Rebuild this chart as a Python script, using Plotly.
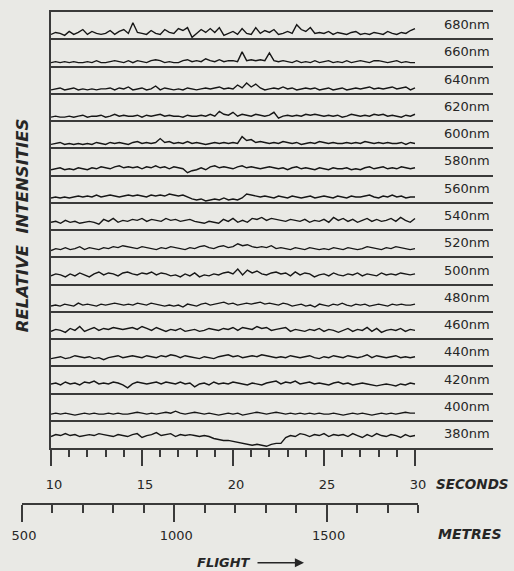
import plotly.graph_objects as go

# Spectral channels, top to bottom
wavelengths = ["680nm", "660nm", "640nm", "620nm", "600nm", "580nm", "560nm", "540nm",
               "520nm", "500nm", "480nm", "460nm", "440nm", "420nm", "400nm", "380nm"]

# Relative intensity records, sampled every 0.25 s from 10 s to 30 s
i680 = [5,7,6,4, 8,5,7,10, 5,8,6,5, 6,9,5,8, 10,6,17,7, 6,5,9,6, 5,10,7,6, 11,9,12,2, 6,10,7,11,
        7,12,4,6, 8,5,11,6, 5,12,6,9, 7,10,5,6, 8,6,15,10, 8,12,6,7, 6,8,5,7, 6,5,7,8, 5,6,5,7,
        6,5,8,6, 5,7,6,9, 11]
i660 = [4,5,4,5, 4,5,4,4, 5,4,6,4, 4,5,6,5, 4,6,4,6, 5,4,6,7, 6,4,5,4, 4,6,7,5, 6,5,8,6, 5,7,5,6,
        6,5,15,6, 7,6,7,6, 14,6,5,6, 5,4,6,4, 5,4,6,4, 5,6,4,5, 4,6,4,5, 6,5,4,6, 6,5,4,5,
        6,4,5,4, 4]
i640 = [4,5,6,4, 5,6,4,5, 4,5,4,5, 5,6,4,6, 5,7,4,5, 6,4,5,8, 4,6,5,4, 5,4,6,5, 4,5,6,5, 6,7,5,6,
        5,9,6,11, 7,10,6,4, 5,6,5,7, 5,6,4,5, 6,5,6,4, 5,6,4,5, 6,4,5,6, 5,6,7,5, 6,5,6,7,
        5,6,7,4, 6]
i620 = [4,5,4,4, 5,4,5,6, 4,5,5,6, 4,5,7,5, 6,5,5,6, 4,6,5,6, 7,5,6,5, 5,4,6,5, 5,6,5,7, 5,10,7,6,
        9,5,7,6, 5,7,6,5, 6,9,3,5, 6,5,6,5, 7,6,7,6, 5,6,5,6, 4,5,7,6, 5,6,5,7, 6,7,5,6,
        5,4,6,5, 7]
i600 = [4,5,6,4, 5,4,5,4, 5,4,6,5, 4,6,5,6, 5,4,6,7, 5,6,5,6, 10,6,7,5, 6,5,7,5, 6,5,4,5, 6,5,6,5,
        6,5,12,8, 9,6,7,6, 5,6,5,7, 6,5,6,4, 5,6,5,7, 6,5,6,5, 5,6,5,6, 5,7,6,5, 6,5,6,5,
        5,6,4,6, 5]
i580 = [6,7,8,6, 7,6,8,7, 6,8,7,9, 8,7,9,10, 8,9,8,9, 7,9,8,10, 8,9,7,9, 8,7,3,5, 6,8,6,9, 10,8,9,8,
        7,9,10,8, 9,8,7,8, 9,8,7,8, 6,8,9,7, 8,7,6,8, 7,6,8,7, 7,8,6,7, 6,8,9,7, 8,9,7,8,
        7,9,8,7, 8]
i560 = [5,6,5,6, 5,6,7,6, 7,6,8,6, 7,8,7,6, 7,8,7,8, 7,6,8,7, 8,7,9,8, 7,8,6,4, 3,4,2,3, 4,3,5,3,
        4,3,5,9, 8,7,6,7, 6,5,7,6, 5,7,6,5, 6,7,5,6, 7,6,5,7, 6,5,7,6, 6,7,8,6, 5,7,6,8,
        6,7,5,6, 6]
i540 = [8,9,7,10, 8,9,7,8, 9,8,6,11, 9,12,8,10, 9,11,10,12, 9,11,10,9, 12,10,11,9, 10,11,9,8,
        7,9,8,7, 11,9,12,8, 10,8,12,11, 13,10,12,11, 10,9,11,10, 9,11,8,10, 9,11,8,13, 10,12,9,11,
        8,10,12,9, 11,9,10,12, 9,13,10,8, 12]
i520 = [7,9,8,10, 8,9,11,8, 10,9,8,10, 9,11,10,12, 11,10,9,11, 10,9,8,10, 9,11,10,9, 8,10,9,11,
        12,10,9,11, 12,10,11,14, 12,13,11,10, 11,10,12,9, 10,9,8,10, 9,8,10,9, 8,9,8,10, 9,8,10,9,
        8,9,11,10, 9,8,10,9, 11,10,9,8, 9]
i500 = [9,11,10,8, 11,9,12,10, 8,11,13,10, 12,11,9,12, 13,11,10,12, 11,13,10,12, 11,9,10,8,
        11,9,12,8, 10,9,11,10, 12,13,11,16, 10,15,12,14, 11,10,12,13, 11,12,9,13, 10,12,11,8,
        10,11,9,12, 10,9,11,10, 12,9,11,10, 9,12,10,11, 10,12,11,10, 11]
i480 = [6,7,6,8, 7,6,9,7, 8,7,6,8, 7,8,9,8, 7,8,7,9, 8,7,9,8, 7,6,7,6, 7,5,8,7, 6,8,9,7, 8,9,10,8,
        9,7,8,9, 8,9,10,8, 9,8,7,9, 8,6,7,8, 6,7,5,8, 7,6,8,7, 9,7,6,8, 7,8,6,7, 8,7,6,8,
        7,8,7,7, 8]
i460 = [8,10,9,7, 11,9,13,8, 10,12,9,11, 10,12,11,10, 11,12,10,13, 11,9,12,10, 8,10,9,11, 8,9,10,8,
        9,11,10,9, 11,10,12,9, 12,11,10,13, 11,12,9,10, 11,12,8,10, 9,8,10,9, 11,8,10,9, 7,9,11,8,
        10,9,12,8, 11,7,9,10, 9,11,8,10, 9]
i440 = [8,9,10,8, 9,11,10,9, 10,8,9,7, 9,10,11,9, 10,11,10,9, 11,10,9,11, 10,12,11,9, 11,10,9,8,
        10,9,8,10, 11,12,10,11, 9,10,11,10, 12,11,10,9, 10,9,11,10, 9,10,11,9, 8,10,9,11, 10,9,11,10,
        9,10,12,9, 11,10,9,10, 11,9,10,9, 10]
i420 = [10,11,9,12, 10,11,9,12, 11,13,10,11, 10,12,11,9, 6,10,12,11, 10,11,12,10, 12,11,10,12,
        10,11,7,10, 11,9,12,10, 11,10,12,11, 10,9,11,10, 9,11,12,13, 10,12,11,13, 10,11,12,10,
        11,10,9,11, 12,10,11,9, 10,11,10,9, 8,9,10,9, 8,10,9,11, 10]
i400 = [7,8,7,8, 7,6,7,8, 7,8,7,7, 8,7,8,7, 7,8,9,8, 7,8,7,8, 9,8,10,8, 7,8,9,8, 7,8,7,6, 7,8,7,8,
        6,7,8,9, 8,7,8,9, 8,7,8,7, 8,7,8,7, 8,7,7,8, 7,6,7,8, 7,8,7,6, 7,8,7,8, 7,8,9,8, 8]
i380 = [12,14,13,15, 13,14,12,13, 14,13,15,14, 13,12,14,13, 12,14,15,11, 13,14,16,13, 14,15,12,14,
        13,14,13,12, 13,12,10,9, 8,8,7,6, 5,4,3,4, 3,2,4,5, 5,11,13,12, 15,14,12,14, 13,15,12,14,
        13,14,12,15, 13,11,14,12, 15,13,12,14, 13,11,14,12, 13]

records = [i680, i660, i640, i620, i600, i580, i560, i540,
           i520, i500, i480, i460, i440, i420, i400, i380]

# Axis tick values
second_ticks = [10, 15, 20, 25, 30]
second_minor = [11, 12, 13, 14, 16, 17, 18, 19, 21, 22, 23, 24, 26, 27, 28, 29]
metre_ticks = [500, 1000, 1500]
metre_minor = [600, 700, 800, 900, 1100, 1200, 1300, 1400, 1600, 1700, 1800]

T_START, T_END = 10, 30
BAND = 28.0          # intensity units per channel strip
N_BANDS = len(wavelengths)

INK = "#262626"
RULE = "#3a3a3a"
PAPER = "#e9e9e5"
FONT = "DejaVu Sans"

fig = go.Figure()

for row, (label, vals) in enumerate(zip(wavelengths, records)):
    base = N_BANDS - 1 - row
    n = len(vals)
    t = [T_START + (T_END - T_START) * i / (n - 1) for i in range(n)]
    fig.add_trace(go.Scatter(
        x=t, y=[base + v / BAND for v in vals], mode="lines",
        line=dict(color="#161616", width=1.4), showlegend=False, hoverinfo="skip"))
    fig.add_annotation(
        x=1, xref="paper", y=base + 0.5, yref="y", text=label, showarrow=False,
        xanchor="right", yanchor="middle", xshift=-1, yshift=1,
        font=dict(family=FONT, size=13, color=INK))

# placeholder trace so the distance axis is drawn
fig.add_trace(go.Scatter(x=[None], y=[None], xaxis="x2", yaxis="y2",
                         showlegend=False, hoverinfo="skip"))

W, H = 514, 571
ML, MR, MT, MB = 22, 21, 10, 68
pw, ph = W - ML - MR, H - MT - MB

def px_x(p):
    return (p - ML) / pw

def px_y(p):
    return (H - MB - p) / ph

fig.update_layout(
    width=W, height=H,
    margin=dict(l=ML, r=MR, t=MT, b=MB, pad=0),
    paper_bgcolor=PAPER, plot_bgcolor=PAPER,
    hovermode=False,
    xaxis=dict(
        domain=[px_x(51), 1], range=[T_START, T_START + (493 - 51) / 18.2],
        showline=True, linecolor=RULE, linewidth=2, mirror=True,
        showgrid=False, zeroline=False,
        tickmode="array", tickvals=second_ticks,
        ticks="outside", ticklen=16, tickwidth=2, tickcolor=RULE,
        ticklabelstandoff=7, ticklabelshift=3,
        tickfont=dict(family=FONT, size=13, color=INK),
        minor=dict(tickmode="array", tickvals=second_minor, ticks="outside",
                   ticklen=7, tickwidth=2, tickcolor=RULE, showgrid=False),
    ),
    yaxis=dict(
        domain=[px_y(448), 1], range=[0, N_BANDS],
        showline=True, linecolor=RULE, linewidth=2,
        tickmode="array", tickvals=list(range(1, N_BANDS)),
        showgrid=True, gridcolor=RULE, gridwidth=2,
        showticklabels=False, ticks="", zeroline=False,
    ),
    xaxis2=dict(
        domain=[0, px_x(418)], range=[500, 1800], anchor="y2",
        showline=True, linecolor=RULE, linewidth=2,
        showgrid=False, zeroline=False,
        tickmode="array", tickvals=metre_ticks,
        ticks="outside", ticklen=17, tickwidth=2, tickcolor=RULE,
        ticklabelstandoff=2, ticklabelshift=2,
        tickfont=dict(family=FONT, size=13, color=INK),
        minor=dict(tickmode="array", tickvals=metre_minor, ticks="outside",
                   ticklen=8, tickwidth=2, tickcolor=RULE, showgrid=False),
    ),
    yaxis2=dict(domain=[0, 0.002], anchor="x2", visible=False, range=[0, 1]),
)

bold_font = dict(family=FONT, size=13.5, color=INK)
fig.add_annotation(x=px_x(434), y=px_y(484), xref="paper", yref="paper",
                   text="<b><i>SECONDS</i></b>", showarrow=False,
                   xanchor="left", yanchor="middle", font=bold_font)
fig.add_annotation(x=px_x(436), y=px_y(534), xref="paper", yref="paper",
                   text="<b><i>METRES</i></b>", showarrow=False,
                   xanchor="left", yanchor="middle", font=dict(family=FONT, size=14, color=INK))
fig.add_annotation(x=px_x(224), y=px_y(563), xref="paper", yref="paper",
                   text="<b><i>FLIGHT</i></b>", showarrow=False,
                   xanchor="center", yanchor="middle", font=dict(family=FONT, size=13, color=INK))
fig.add_annotation(x=px_x(304), y=px_y(563), xref="paper", yref="paper",
                   text="", showarrow=True, ax=-48, ay=0,
                   arrowhead=2, arrowsize=1.3, arrowwidth=1.4, arrowcolor=INK)
fig.add_annotation(x=px_x(22), y=px_y(225), xref="paper", yref="paper",
                   text="<b><i>RELATIVE  INTENSITIES</i></b>", showarrow=False,
                   textangle=-90, xanchor="center", yanchor="middle",
                   font=dict(family=FONT, size=16.5, color=INK))

fig.write_html("out.html", config={"displayModeBar": False, "staticPlot": True})
